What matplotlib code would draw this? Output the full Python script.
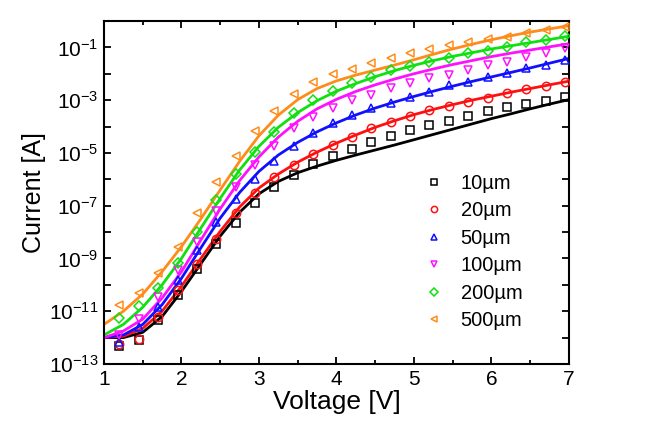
import numpy as np
import matplotlib
matplotlib.use("Agg")
import matplotlib.pyplot as plt
from matplotlib.ticker import FixedLocator, FuncFormatter

plt.rcParams['font.family'] = ['Liberation Sans', 'DejaVu Sans']
plt.rcParams['mathtext.fontset'] = 'custom'
plt.rcParams['mathtext.rm'] = 'Liberation Sans'
plt.rcParams['mathtext.it'] = 'Liberation Sans'
plt.rcParams['mathtext.default'] = 'regular'

labels = ["10µm", "20µm", "50µm", "100µm", "200µm", "500µm"]
colors = ["#000000", "#ff1010", "#1010ff", "#ff10ff", "#10e010", "#ff8c1a"]
markers = ["s", "o", "^", "v", "D", "<"]

# measured points (log10 of current)
v_meas = [1.2, 1.45, 1.7, 1.95, 2.2, 2.45, 2.7, 2.95, 3.2, 3.45, 3.7, 3.95,
          4.2, 4.45, 4.7, 4.95, 5.2, 5.45, 5.7, 5.95, 6.2, 6.45, 6.7, 6.95]
log_i_10 = [-12.3, -12.1, -11.35, -10.4, -9.4, -8.45, -7.66, -6.88, -6.28, -5.83, -5.42, -5.10,
            -4.85, -4.60, -4.34, -4.15, -3.94, -3.78, -3.60, -3.43, -3.27, -3.16, -3.02, -2.89]
log_i_20 = [-12.25, -12.06, -11.2, -10.19, -9.2, -8.25, -7.28, -6.53, -5.9, -5.45, -5.04, -4.70,
            -4.38, -4.06, -3.84, -3.60, -3.37, -3.22, -3.06, -2.90, -2.74, -2.58, -2.45, -2.30]
log_i_50 = [-12.15, -11.6, -10.85, -9.81, -8.67, -7.60, -6.75, -6.0, -5.3, -4.75, -4.25, -3.88,
            -3.56, -3.31, -3.12, -2.87, -2.68, -2.42, -2.30, -2.11, -1.98, -1.79, -1.67, -1.48]
log_i_100 = [-11.9, -11.3, -10.45, -9.45, -8.36, -7.22, -6.28, -5.45, -4.73, -4.06, -3.63, -3.31,
             -2.99, -2.80, -2.55, -2.36, -2.17, -2.05, -1.86, -1.67, -1.54, -1.35, -1.22, -1.03]
log_i_200 = [-11.26, -10.82, -10.13, -9.18, -7.98, -6.78, -5.8, -4.95, -4.2, -3.5, -3.0, -2.64,
             -2.36, -2.13, -1.86, -1.70, -1.54, -1.39, -1.22, -1.14, -0.97, -0.81, -0.72, -0.56]
log_i_500 = [-10.75, -10.3, -9.56, -8.55, -7.28, -6.09, -5.11, -4.17, -3.41, -2.77, -2.32, -2.01,
             -1.82, -1.58, -1.39, -1.22, -1.07, -0.91, -0.78, -0.69, -0.59, -0.47, -0.34, -0.22]

# fitted curves (log10 of current)
v_fit = [1.0, 1.25, 1.5, 1.75, 2.0, 2.25, 2.5, 2.75, 3.0, 3.25, 3.5, 3.75, 4.0,
         4.25, 4.5, 4.75, 5.0, 5.25, 5.5, 5.75, 6.0, 6.25, 6.5, 6.75, 7.0]
fit_10 = [-12.0, -12.0, -11.8, -11.2, -10.25, -9.2, -8.15, -7.25, -6.55, -6.08, -5.75, -5.5, -5.28,
          -5.08, -4.89, -4.7, -4.5, -4.3, -4.1, -3.9, -3.7, -3.52, -3.33, -3.15, -2.98]
fit_20 = [-12.0, -11.95, -11.65, -11.0, -10.05, -9.0, -7.97, -7.05, -6.33, -5.8, -5.35, -4.97, -4.63,
          -4.32, -4.03, -3.78, -3.55, -3.35, -3.17, -3.0, -2.85, -2.7, -2.56, -2.42, -2.28]
fit_50 = [-12.0, -11.9, -11.5, -10.75, -9.75, -8.6, -7.47, -6.5, -5.7, -5.08, -4.6, -4.2, -3.86,
          -3.56, -3.3, -3.07, -2.86, -2.66, -2.47, -2.29, -2.12, -1.95, -1.78, -1.6, -1.42]
fit_100 = [-12.0, -11.75, -11.3, -10.5, -9.5, -8.3, -7.12, -6.05, -5.15, -4.4, -3.8, -3.33, -2.97,
           -2.67, -2.42, -2.2, -2.0, -1.82, -1.65, -1.5, -1.35, -1.22, -1.1, -0.98, -0.86]
fit_200 = [-11.9, -11.5, -10.85, -10.0, -9.0, -7.85, -6.72, -5.65, -4.75, -4.03, -3.47, -3.02, -2.66,
           -2.37, -2.11, -1.88, -1.68, -1.5, -1.34, -1.2, -1.06, -0.94, -0.82, -0.7, -0.58]
fit_500 = [-11.5, -11.0, -10.35, -9.5, -8.55, -7.5, -6.4, -5.32, -4.35, -3.57, -2.98, -2.56, -2.27,
           -2.05, -1.86, -1.67, -1.47, -1.26, -1.06, -0.88, -0.71, -0.56, -0.42, -0.3, -0.18]

meas = [log_i_10, log_i_20, log_i_50, log_i_100, log_i_200, log_i_500]
fits = [fit_10, fit_20, fit_50, fit_100, fit_200, fit_500]

fig = plt.figure(figsize=(6.52, 4.32), dpi=100)
ax = fig.add_axes([0.1595, 0.1574, 0.713, 0.794])

handles = []
for lab, c, m, y, f in zip(labels, colors, markers, meas, fits):
    ax.plot(v_fit, 10.0 ** np.array(f), color=c, lw=2.0, zorder=2)
    h, = ax.plot(v_meas, 10.0 ** np.array(y), ls="none", marker=m, ms=6 if m != "D" else 5,
                 mfc="none", mec=c, mew=1.1, label=lab, zorder=3)
    handles.append(h)

ax.set_yscale("log")
ax.set_xlim(1, 7)
ax.set_ylim(1e-13, 1e0)

ax.xaxis.set_major_locator(FixedLocator([1, 2, 3, 4, 5, 6, 7]))
ax.xaxis.set_minor_locator(FixedLocator([1.5, 2.5, 3.5, 4.5, 5.5, 6.5]))
ax.yaxis.set_major_locator(FixedLocator([10.0 ** e for e in range(-13, 1)]))
ax.yaxis.set_minor_locator(FixedLocator([]))

def yfmt(val, pos):
    e = int(round(np.log10(val)))
    if e % 2 == 0:
        return ""
    return r"$10^{%d}$" % e

ax.yaxis.set_major_formatter(FuncFormatter(yfmt))
ax.tick_params(which="both", direction="in", top=True, right=True, width=1.3, labelsize=15)
ax.tick_params(which="major", length=5, pad=4)
ax.tick_params(which="minor", length=3)
for s in ax.spines.values():
    s.set_linewidth(1.5)

ax.set_xlabel("Voltage [V]", fontsize=19, labelpad=1)
ax.set_ylabel("Current [A]", fontsize=18, labelpad=2)

leg = ax.legend(handles=handles, loc="upper left", bbox_to_anchor=(0.659, 0.578),
                frameon=False, fontsize=14.5, handletextpad=0.6, labelspacing=0.42,
                handlelength=1.5, markerscale=0.75, borderaxespad=0.0)

fig.savefig("out.png", dpi=100)
